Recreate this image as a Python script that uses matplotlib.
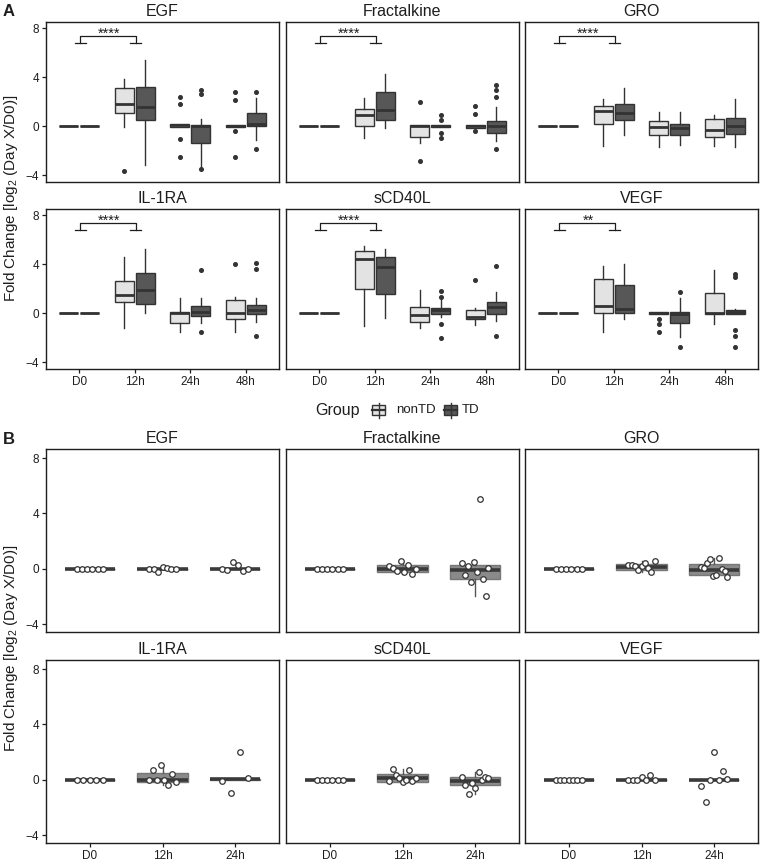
"""Fold change of cytokines by time point: grouped box plots (A) and single-group box plots (B)."""

import matplotlib

matplotlib.use("Agg")

import matplotlib.pyplot as plt
import numpy as np
from matplotlib.lines import Line2D
from matplotlib.patches import Rectangle

plt.rcParams["font.family"] = ["Liberation Sans", "DejaVu Sans"]
plt.rcParams["mathtext.fontset"] = "custom"
plt.rcParams["mathtext.rm"] = "Liberation Sans"
plt.rcParams["mathtext.default"] = "regular"

CYTOKINES = ["EGF", "Fractalkine", "GRO", "IL-1RA", "sCD40L", "VEGF"]
TIMES_A = ["D0", "12h", "24h", "48h"]
TIMES_B = ["D0", "12h", "24h"]
GROUPS = ["nonTD", "TD"]
SIG_LABELS = ["****", "****", "****", "****", "****", "**"]

# box stats, one tuple per time point: (whisker low, q1, median, q3, whisker high)
ZERO = (0.0, 0.0, 0.0, 0.0, 0.0)

EGF_NONTD = [ZERO, (-0.1, 1.03, 1.8, 3.07, 3.8), (-0.05, -0.05, 0.05, 0.2, 0.2), (-0.05, -0.05, 0.0, 0.05, 0.05)]
EGF_NONTD_OUT = [[], [-3.67], [2.4, 1.8, -1.09, -2.5], [2.8, 2.12, -0.41, -2.5]]
EGF_TD = [ZERO, (-3.2, 0.49, 1.52, 3.2, 5.4), (-3.46, -1.36, 0.0, 0.08, 0.54), (-1.14, 0.0, 0.14, 1.09, 2.26)]
EGF_TD_OUT = [[], [], [2.94, 2.61, -3.54], [2.8, -1.85]]

FRACT_NONTD = [ZERO, (-0.98, -0.03, 0.93, 1.41, 2.31), (-1.39, -0.9, -0.03, 0.05, 0.05), (-0.2, -0.2, 0.0, 0.1, 0.1)]
FRACT_NONTD_OUT = [[], [], [2.0, -2.86], [1.63, 0.95, -0.4]]
FRACT_TD = [ZERO, (-0.16, 0.46, 1.28, 2.75, 4.27), (-0.05, -0.05, 0.0, 0.05, 0.05), (-1.2, -0.57, 0.03, 0.38, 1.55)]
FRACT_TD_OUT = [[], [], [0.87, 0.46, -0.57, -0.98], [3.37, 2.97, 2.37, -1.85]]

GRO_NONTD = [ZERO, (-1.63, 0.19, 1.2, 1.66, 2.18), (-1.74, -0.76, -0.08, 0.41, 1.12), (-1.66, -0.87, -0.35, 0.57, 0.9)]
GRO_NONTD_OUT = [[], [], [], []]
GRO_TD = [ZERO, (-0.71, 0.46, 1.06, 1.77, 3.07), (-1.58, -0.71, -0.16, 0.14, 1.12), (-1.71, -0.63, -0.03, 0.63, 2.2)]
GRO_TD_OUT = [[], [], [], []]

IL1RA_NONTD = [ZERO, (-1.22, 0.9, 1.47, 2.59, 4.6), (-1.55, -0.82, 0.0, 0.05, 1.2), (-1.52, -0.49, 0.0, 1.06, 1.3)]
IL1RA_NONTD_OUT = [[], [], [], [4.0]]
IL1RA_TD = [ZERO, (0.03, 0.73, 1.9, 3.24, 5.2), (-0.82, -0.27, 0.05, 0.54, 1.2), (-0.7, -0.08, 0.24, 0.63, 1.2)]
IL1RA_TD_OUT = [[], [], [3.54, -1.58], [4.1, 3.56, -1.88]]

SCD40L_NONTD = [ZERO, (-1.06, 1.96, 4.41, 5.06, 5.47), (-1.2, -0.71, -0.16, 0.49, 1.85), (-0.98, -0.49, -0.33, 0.22, 0.38)]
SCD40L_NONTD_OUT = [[], [], [], [2.67]]
SCD40L_TD = [ZERO, (-0.44, 1.58, 3.76, 4.54, 5.25), (-0.33, -0.11, 0.22, 0.41, 1.03), (-0.65, -0.11, 0.49, 0.87, 1.74)]
SCD40L_TD_OUT = [[], [], [1.8, 1.33, -0.87, -2.0], [3.84, -1.88]]

VEGF_NONTD = [ZERO, (-1.55, -0.03, 0.54, 2.78, 3.84), (-0.1, -0.1, 0.0, 0.05, 0.05), (-0.93, -0.08, 0.03, 1.6, 3.48)]
VEGF_NONTD_OUT = [[], [], [-0.46, -0.87, -1.55], []]
VEGF_TD = [ZERO, (-0.49, -0.03, 0.33, 2.26, 4.03), (-1.93, -0.79, -0.11, 0.08, 1.25), (-0.05, -0.05, 0.1, 0.22, 0.35)]
VEGF_TD_OUT = [[], [], [1.71, -2.75], [3.16, 2.97, -1.41, -1.9, -2.75]]

# panel B: single group, box stats plus every observation
B_EGF = [ZERO, ZERO, ZERO]
B_EGF_PTS = [[0, 0, 0, 0, 0, 0], [0, 0, -0.25, 0.15, 0.05, 0, 0], [0, -0.1, 0.5, 0.3, -0.15, 0]]
B_FRACT = [ZERO, (-0.34, -0.2, 0.0, 0.27, 0.55), (-1.98, -0.72, -0.05, 0.31, 0.48)]
B_FRACT_PTS = [[0, 0, 0, 0, 0, 0], [0.24, 0.07, -0.12, 0.55, -0.24, 0.27, -0.34, 0.0],
               [0.43, -0.43, 0.24, -0.96, 0.48, -0.19, 5.05, -0.72, -1.98, 0.1]]
B_GRO = [ZERO, (-0.24, -0.05, 0.12, 0.36, 0.6), (-0.6, -0.43, -0.05, 0.36, 0.8)]
B_GRO_PTS = [[0, 0, 0, 0, 0, 0], [0.27, 0.31, 0.19, -0.05, 0.19, 0.43, 0.07, -0.24, 0.6],
             [0.12, 0.07, 0.43, 0.72, -0.48, -0.41, 0.8, 0.0, -0.17, -0.6]]
B_IL1RA = [ZERO, (-0.39, -0.14, 0.0, 0.51, 1.08), (0.0, 0.0, 0.05, 0.1, 0.1)]
B_IL1RA_PTS = [[0, 0, 0, 0, 0], [0, 0.7, 0, 1.08, 0, -0.39, 0.46, -0.14], [-0.07, -0.92, 2.02, 0.17]]
B_SCD40L = [ZERO, (-0.17, -0.12, 0.17, 0.46, 0.8), (-0.99, -0.39, -0.07, 0.19, 0.58)]
B_SCD40L_PTS = [[0, 0, 0, 0, 0, 0], [-0.07, 0.8, 0.36, 0.12, -0.17, -0.02, 0.72, -0.07, 0.12],
                [0.22, -0.36, -0.99, -0.19, -0.55, 0.58, 0.0, 0.24, 0.12]]
B_VEGF = [ZERO, ZERO, ZERO]
B_VEGF_PTS = [[0, 0, 0, 0, 0, 0, 0], [0, 0, 0, 0.24, 0, 0.36, 0], [-0.46, -1.57, 0, 1.98, 0, 0.67, 0.1]]

A_NONTD = [EGF_NONTD, FRACT_NONTD, GRO_NONTD, IL1RA_NONTD, SCD40L_NONTD, VEGF_NONTD]
A_NONTD_OUT = [EGF_NONTD_OUT, FRACT_NONTD_OUT, GRO_NONTD_OUT, IL1RA_NONTD_OUT, SCD40L_NONTD_OUT, VEGF_NONTD_OUT]
A_TD = [EGF_TD, FRACT_TD, GRO_TD, IL1RA_TD, SCD40L_TD, VEGF_TD]
A_TD_OUT = [EGF_TD_OUT, FRACT_TD_OUT, GRO_TD_OUT, IL1RA_TD_OUT, SCD40L_TD_OUT, VEGF_TD_OUT]
B_BOXES = [B_EGF, B_FRACT, B_GRO, B_IL1RA, B_SCD40L, B_VEGF]
B_POINTS = [B_EGF_PTS, B_FRACT_PTS, B_GRO_PTS, B_IL1RA_PTS, B_SCD40L_PTS, B_VEGF_PTS]

INK = "#1e1e1e"
EDGE = "#333333"
FILLS = {"nonTD": "#e3e3e3", "TD": "#575757"}
B_FILL = "#8a8a8a"

W, H = 760, 868
COL_LEFT = [46, 286, 525]
COL_W = 233
ROWS_A = [(22, 182), (209, 369)]
ROWS_B = [(449, 632), (660, 843)]


def to_stats(rows, outs=None):
    out = []
    for i, r in enumerate(rows):
        fl = outs[i] if outs is not None else []
        out.append(dict(whislo=r[0], q1=r[1], med=r[2], q3=r[3], whishi=r[4], fliers=fl))
    return out


def add_axes(fig, col, top, bottom):
    ax = fig.add_axes([COL_LEFT[col] / W, 1 - bottom / H, COL_W / W, (bottom - top) / H])
    for s in ax.spines.values():
        s.set_color(INK)
        s.set_linewidth(1.0)
    ax.tick_params(length=3, width=0.9, color=INK, labelsize=8.5, labelcolor=INK, pad=2)
    return ax


def style_ticks(ax, col, bottom_row, labels):
    ax.set_yticks([-4, 0, 4, 8])
    ax.set_xticks(np.arange(1, len(labels) + 1))
    ax.set_xticklabels(labels)
    ax.tick_params(left=(col == 0), labelleft=(col == 0), bottom=bottom_row, labelbottom=bottom_row)


fig = plt.figure(figsize=(W / 100, H / 100), dpi=100)

# ---- panel A ----
for i, name in enumerate(CYTOKINES):
    r, c = divmod(i, 3)
    ax = add_axes(fig, c, *ROWS_A[r])
    x = np.arange(1, len(TIMES_A) + 1)
    for grp, rows, outs, off in [("nonTD", A_NONTD[i], A_NONTD_OUT[i], -0.19),
                                 ("TD", A_TD[i], A_TD_OUT[i], 0.19)]:
        ax.bxp(to_stats(rows, outs), positions=x + off, widths=0.34, patch_artist=True,
               showcaps=False,
               boxprops=dict(facecolor=FILLS[grp], edgecolor=EDGE, linewidth=1.0),
               medianprops=dict(color=EDGE, linewidth=2.0, solid_capstyle="butt"),
               whiskerprops=dict(color=EDGE, linewidth=1.0),
               flierprops=dict(marker="o", markersize=2.6, markerfacecolor=EDGE,
                               markeredgecolor=EDGE, linestyle="none"))
    # significance bracket D0 vs 12h
    y_top, y_tip = 7.35, 6.78
    ax.plot([1.02, 1.02, 2.02, 2.02], [y_tip, y_top, y_top, y_tip], color=INK, lw=0.9)
    ax.plot([0.92, 1.12], [y_tip, y_tip], color=INK, lw=0.9)
    ax.plot([1.92, 2.12], [y_tip, y_tip], color=INK, lw=0.9)
    ax.text(1.54, 7.2, SIG_LABELS[i], ha="center", va="baseline", fontsize=10.5, color=INK)
    ax.set_xlim(0.4, 4.6)
    ax.set_ylim(-4.57, 8.49)
    ax.set_title(name, fontsize=11.5, pad=4, color=INK)
    style_ticks(ax, c, r == 1, TIMES_A)

# ---- panel B ----
for i, name in enumerate(CYTOKINES):
    r, c = divmod(i, 3)
    ax = add_axes(fig, c, *ROWS_B[r])
    x = np.arange(1, len(TIMES_B) + 1)
    ax.bxp(to_stats(B_BOXES[i]), positions=x, widths=0.69, patch_artist=True,
           showcaps=False, showfliers=False,
           boxprops=dict(facecolor=B_FILL, edgecolor="#777777", linewidth=1.0),
           medianprops=dict(color="#3a3a3a", linewidth=2.6, solid_capstyle="butt"),
           whiskerprops=dict(color="#555555", linewidth=1.0))
    for j, vals in enumerate(B_POINTS[i]):
        offs = np.linspace(-0.18, 0.18, len(vals))
        ax.plot(x[j] + offs, vals, linestyle="none", marker="o", markersize=4.0,
                markerfacecolor="white", markeredgecolor=EDGE, markeredgewidth=0.9, zorder=4)
    ax.set_xlim(0.4, 3.6)
    ax.set_ylim(-4.55, 8.65)
    ax.set_title(name, fontsize=11.5, pad=4, color=INK)
    style_ticks(ax, c, r == 1, TIMES_B)

# ---- shared labels ----
ylab = "Fold Change [log$_2$ (Day X/D0)]"
fig.text(0.014, 1 - 198 / H, ylab, rotation=90, ha="center", va="center", fontsize=11, color=INK)
fig.text(0.014, 1 - 648 / H, ylab, rotation=90, ha="center", va="center", fontsize=11, color=INK)
fig.text(3 / W, 1 - 12 / H, "A", fontsize=12, fontweight="bold", ha="left", va="center", color=INK)
fig.text(3 / W, 1 - 440 / H, "B", fontsize=12, fontweight="bold", ha="left", va="center", color=INK)

# ---- legend ----
ly = 1 - 410 / H
fig.text(315 / W, ly, "Group", fontsize=11.5, ha="left", va="center", color=INK)
for grp, kx, tx in [("nonTD", 372, 396), ("TD", 444, 462)]:
    bw, bh = 13, 10
    fig.add_artist(Line2D([(kx + bw / 2) / W] * 2, [ly - 7.5 / H, ly + 7.5 / H], color=EDGE, lw=1.0))
    fig.add_artist(Rectangle((kx / W, ly - bh / 2 / H), bw / W, bh / H, facecolor=FILLS[grp],
                             edgecolor=EDGE, lw=1.0, transform=fig.transFigure))
    fig.add_artist(Line2D([kx / W, (kx + bw) / W], [ly, ly], color=EDGE, lw=1.6))
    fig.text(tx / W, ly, grp, fontsize=9.5, ha="left", va="center", color=INK)

fig.savefig("out.png", dpi=100, facecolor="white")
plt.close(fig)
